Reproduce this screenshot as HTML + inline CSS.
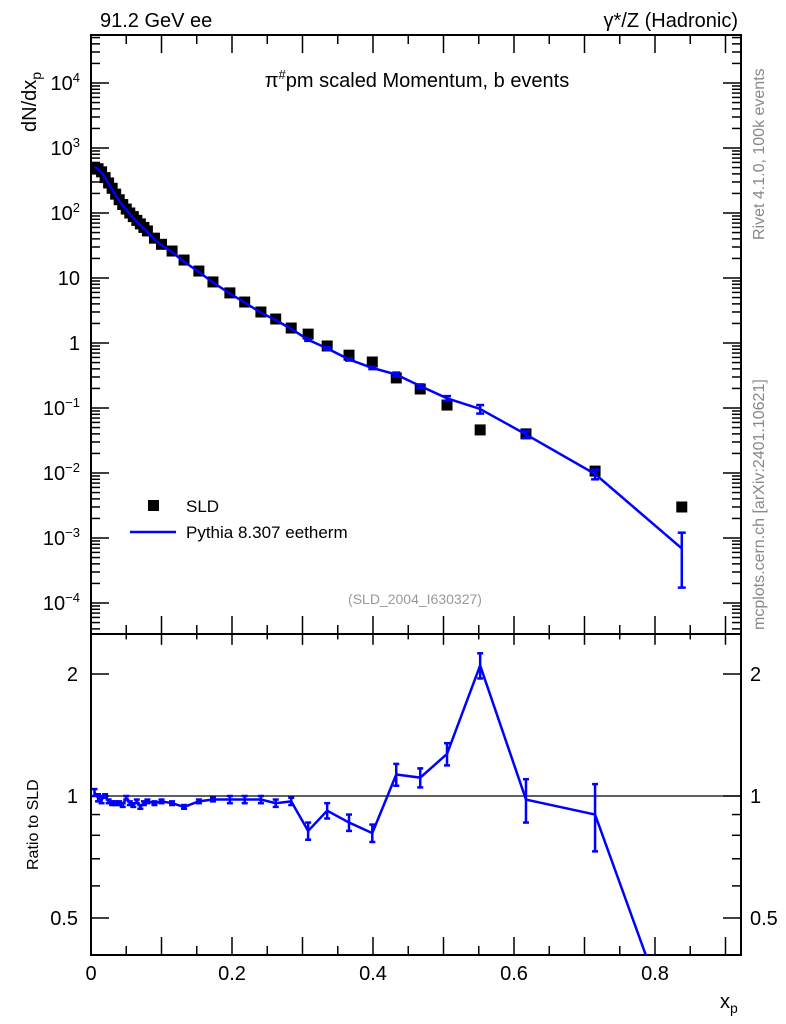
<!DOCTYPE html>
<html><head><meta charset="utf-8"><style>
html,body{margin:0;background:#fff;overflow:hidden;width:786px;height:1024px;}
svg{display:block;font-family:"Liberation Sans",sans-serif;}
</style></head><body>
<svg id="c" width="786" height="1024"></svg>
<script>
const xs=[0.005,0.01,0.015,0.02,0.025,0.03,0.035,0.04,0.045,0.05,0.055,0.06,0.065,0.07,0.075,0.08,0.09,0.1,0.115,0.132,0.153,0.173,0.197,0.218,0.241,0.262,0.284,0.308,0.335,0.366,0.399,0.433,0.467,0.505,0.552,0.617,0.715,0.838];
const dataVals=[500,480,430,350,290,240,195,160,135,115,100,88,77,68,60,53,41,33,26,18.9,12.8,8.7,5.9,4.27,3.0,2.34,1.7,1.37,0.9,0.65,0.51,0.29,0.196,0.111,0.046,0.040,0.0107,0.003];
const ratioVals=[1.02,0.99,0.98,1.0,0.97,0.96,0.96,0.96,0.95,0.99,0.96,0.95,0.97,0.94,0.96,0.97,0.96,0.97,0.96,0.94,0.97,0.98,0.98,0.98,0.98,0.96,0.97,0.82,0.92,0.86,0.81,1.13,1.11,1.27,2.1,0.98,0.9,0.23];
const ratioErr=[0.02,0.02,0.02,0.01,0.01,0.01,0.01,0.01,0.01,0.01,0.01,0.01,0.01,0.01,0.01,0.01,0.01,0.01,0.01,0.01,0.01,0.01,0.02,0.02,0.02,0.02,0.02,0.04,0.04,0.04,0.04,0.07,0.06,0.08,0.15,0.12,0.17,0.15];
const xTicks=[0,0.2,0.4,0.6,0.8];
const xTickLabels=["0","0.2","0.4","0.6","0.8"];
const mainTicks=[-4,-3,-2,-1,0,1,2,3,4];
const mainTickLabels=["10<tspan dy='-8' font-size='13'>−4</tspan>","10<tspan dy='-8' font-size='13'>−3</tspan>","10<tspan dy='-8' font-size='13'>−2</tspan>","10<tspan dy='-8' font-size='13'>−1</tspan>","1","10","10<tspan dy='-8' font-size='13'>2</tspan>","10<tspan dy='-8' font-size='13'>3</tspan>","10<tspan dy='-8' font-size='13'>4</tspan>"];
const ratioTicks=[0.5,1,2];
const ratioTickLabels=["0.5","1","2"];

const L=91,R=741,T=35,MB=634,RB=955;
const X=v=>L+(v/0.922)*(R-L);
const YM=v=>343-65*Math.log10(v);
const YR=v=>796-122*Math.log2(v);
const svg=document.getElementById('c');
const NS='http://www.w3.org/2000/svg';
function el(tag,attrs,parent){const e=document.createElementNS(NS,tag);for(const k in attrs)e.setAttribute(k,attrs[k]);(parent||svg).appendChild(e);return e;}
function txt(x,y,s,attrs,name){const t=el('text',Object.assign({x:x,y:y,'font-size':20},attrs||{}));t.innerHTML=s;


return t;}

const defs=el('defs',{});
const c1=el('clipPath',{id:'cm'},defs);el('rect',{x:L,y:T,width:R-L,height:MB-T},c1);
const c2=el('clipPath',{id:'cr'},defs);el('rect',{x:L,y:MB,width:R-L,height:RB-MB},c2);

const tk=el('g',{stroke:'#000','stroke-width':1.5});


for(let v=0;v<=0.92;v+=0.05){const x=X(v);const big=Math.abs(v/0.1-Math.round(v/0.1))<1e-6;const l=big?18:9;
 [[T,T+l],[MB,MB-l],[MB,MB+l*0.6],[RB,RB-l]].forEach(p=>el('line',{x1:x,x2:x,y1:p[0],y2:p[1]},tk));}
for(let d=-5;d<=4;d++){for(let m=1;m<10;m++){const v=m*Math.pow(10,d);const y=YM(v);if(y<T||y>MB)continue;const l=m==1?18:9;
 el('line',{x1:L,x2:L+l,y1:y,y2:y},tk);el('line',{x1:R,x2:R-l,y1:y,y2:y},tk);}}
[0.5,0.6,0.7,0.8,0.9,1,2].forEach(v=>{const y=YR(v);const l=(v==0.5||v==1||v==2)?18:9;
 el('line',{x1:L,x2:L+l,y1:y,y2:y},tk);el('line',{x1:R,x2:R-l,y1:y,y2:y},tk);});

const fm=el('rect',{x:L,y:T,width:R-L,height:MB-T,fill:'none',stroke:'#000','stroke-width':2});

const fr=el('rect',{x:L,y:MB,width:R-L,height:RB-MB,fill:'none',stroke:'#000','stroke-width':2});

const one=el('line',{x1:L,x2:R,y1:YR(1),y2:YR(1),stroke:'#000','stroke-width':1.2});


xTicks.forEach((v,i)=>txt(X(v),980,xTickLabels[i],{'text-anchor':'middle'},'x-tick-label'));
mainTicks.forEach((d,i)=>txt(80,YM(Math.pow(10,d))+7,mainTickLabels[i],{'text-anchor':'end'},'y-tick-label'));
ratioTicks.forEach((v,i)=>{txt(78,YR(v)+7,ratioTickLabels[i],{'text-anchor':'end'},'ratio-tick-label');txt(750,YR(v)+7,ratioTickLabels[i],{},'ratio-tick-label-right');});

txt(100,27,'91.2 GeV ee',{},'energy-label');
txt(738,27,'γ*/Z (Hadronic)',{'text-anchor':'end'},'process-label');
txt(417,87,"π<tspan dy='-8' font-size='13'>#</tspan><tspan dy='8'>pm scaled Momentum, b events</tspan>",{'text-anchor':'middle'},'plot-title');
txt(0,0,"dN/dx<tspan dy='5' font-size='14'>p</tspan>",{transform:'translate(36,132) rotate(-90)','text-anchor':'start'},'y-axis-title');
txt(0,0,'Ratio to SLD',{transform:'translate(38,870) rotate(-90)','font-size':16},'ratio-axis-title');
txt(720,1008,"x<tspan dy='5' font-size='14'>p</tspan>",{},'x-axis-title');
txt(415,604,'(SLD_2004_I630327)',{'text-anchor':'middle','font-size':14,fill:'#999'},'analysis-id');
txt(0,0,'Rivet 4.1.0,  100k events',{transform:'translate(764,240) rotate(-90)','font-size':16,fill:'#888'},'rivet-version');
txt(0,0,'mcplots.cern.ch [arXiv:2401.10621]',{transform:'translate(764,630) rotate(-90)','font-size':16,fill:'#888'},'mcplots-credit');

const gm=el('g',{'clip-path':'url(#cm)'});
const mcVals=dataVals.map((d,i)=>d*ratioVals[i]);
dataVals.forEach((d,i)=>{const r=el('rect',{x:X(xs[i])-5.5,y:YM(d)-5.5,width:11,height:11,fill:'#000'},gm);
 });
const pl=el('polyline',{points:xs.map((x,i)=>X(x)+','+YM(mcVals[i])).join(' '),fill:'none',stroke:'#0000ff','stroke-width':2.5},gm);

xs.forEach((x,i)=>{const e=ratioErr[i]*(i==xs.length-1?5:1);if(e<0.03)return;const m=mcVals[i];
 const y1=YM(m*(1+e)),y2=YM(Math.max(m*(1-e),1e-6));const b=el('g',{stroke:'#0000ff','stroke-width':2.5},gm);
 
 el('line',{x1:X(x),x2:X(x),y1:y1,y2:y2},b);el('line',{x1:X(x)-4,x2:X(x)+4,y1:y1,y2:y1},b);el('line',{x1:X(x)-4,x2:X(x)+4,y1:y2,y2:y2},b);});

const gr=el('g',{'clip-path':'url(#cr)'});
const rl=el('polyline',{points:xs.map((x,i)=>X(x)+','+YR(ratioVals[i])).join(' '),fill:'none',stroke:'#0000ff','stroke-width':2.5},gr);

xs.forEach((x,i)=>{const r=ratioVals[i],e=ratioErr[i];const y1=YR(r+e),y2=YR(r-e);const b=el('g',{stroke:'#0000ff','stroke-width':2.5},gr);
 
 el('line',{x1:X(x),x2:X(x),y1:y1,y2:y2},b);el('line',{x1:X(x)-3,x2:X(x)+3,y1:y1,y2:y1},b);el('line',{x1:X(x)-3,x2:X(x)+3,y1:y2,y2:y2},b);});

const lg=el('g',{});
const ls=el('rect',{x:148,y:500,width:11,height:11,fill:'#000'},lg);
txt(186,512,'SLD',{'font-size':17},'legend-sld-label');
const ll=el('line',{x1:130,x2:176,y1:532,y2:532,stroke:'#0000ff','stroke-width':2.5},lg);
txt(186,538,'Pythia 8.307 eetherm',{'font-size':17},'legend-pythia-label');
</script>
</body></html>
